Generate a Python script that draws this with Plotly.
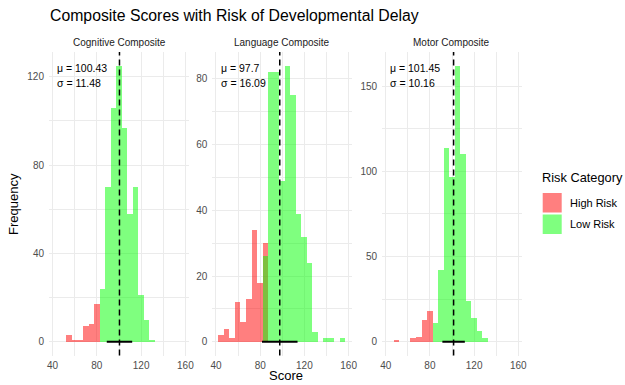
import plotly.graph_objects as go

# ---- data ----
bin_centers = [45, 50, 55, 60, 65, 70, 75, 80, 85, 90, 95, 100, 105, 110,
               115, 120, 125, 130, 135, 140, 145, 150, 155]
bin_width = 5

panels = ["Cognitive Composite", "Language Composite", "Motor Composite"]

cognitive_high = [0, 0, 3, 1, 1, 7, 8, 17, 0, 0, 0, 0, 0, 0, 0, 0, 0, 0, 0, 0, 0, 0, 0]
cognitive_low = [0, 0, 0, 0, 0, 0, 0, 0, 24, 70, 106, 125, 97, 58, 70, 21, 10, 1, 0, 0, 0, 0, 0]

language_high = [2, 4, 1, 12, 6, 13, 34, 18, 30, 0, 0, 0, 0, 0, 0, 0, 0, 0, 0, 0, 0, 0, 0]
language_low = [0, 0, 0, 0, 0, 0, 0, 0, 26, 82, 82, 49, 84, 75, 39, 32, 24, 3, 0, 1, 1, 0, 1]

motor_high = [0, 1, 0, 0, 2, 3, 13, 18, 0, 0, 0, 0, 0, 0, 0, 0, 0, 0, 0, 0, 0, 0, 0]
motor_low = [0, 0, 0, 0, 0, 0, 0, 0, 11, 42, 114, 97, 162, 110, 24, 14, 6, 2, 0, 0, 0, 0, 0]

means = [100.43, 97.7, 101.45]
sds = [11.48, 16.09, 10.16]

legend_title = "Risk Category"
risk_labels = ["High Risk", "Low Risk"]
risk_colors = ["rgba(255,0,0,0.5)", "rgba(0,255,0,0.5)"]

x_ticks = [40, 80, 120, 160]
x_minor = [60, 100, 140]
y_ticks = [[0, 40, 80, 120], [0, 20, 40, 60, 80], [0, 50, 100, 150]]
y_minor = [[20, 60, 100], [10, 30, 50, 70], [25, 75, 125]]

high_sets = [cognitive_high, language_high, motor_high]
low_sets = [cognitive_low, language_low, motor_low]

# ---- layout geometry (window pixels -> paper) ----
W, H = 625, 385
px = lambda v: v / W
py = lambda v: 1 - v / H
x_domains = [(49, 189), (212.4, 352.2), (382.1, 521.9)]
y_dom = [py(355.5), py(52)]

GRID = "#EBEBEB"
TICKC = "#4D4D4D"
FONT = "Liberation Sans, Arial, Helvetica, sans-serif"

fig = go.Figure()
layout = dict(
    width=W, height=H,
    margin=dict(l=0, r=0, t=0, b=0, autoexpand=False),
    paper_bgcolor="white", plot_bgcolor="white",
    barmode="overlay", bargap=0,
    font=dict(family=FONT, color="#000000"),
    showlegend=False,
)

xmin_all = bin_centers[0] - bin_width / 2
xmax_all = bin_centers[-1] + bin_width / 2
xpad = 0.05 * (xmax_all - xmin_all)

annotations = []
shapes = []

for i in range(3):
    sfx = "" if i == 0 else str(i + 1)
    xa, ya = "x" + sfx, "y" + sfx
    for counts, name, col in zip([high_sets[i], low_sets[i]], risk_labels, risk_colors):
        fig.add_trace(go.Bar(
            x=bin_centers,
            y=[c if c > 0 else None for c in counts],
            width=bin_width,
            marker=dict(color=col, line=dict(width=0)),
            name=name, legendgroup=name,
            xaxis=xa, yaxis=ya,
        ))
    # mean +/- sd segment
    fig.add_trace(go.Scatter(
        x=[means[i] - sds[i], means[i] + sds[i]], y=[0, 0],
        mode="lines", line=dict(color="#000000", width=2),
        hoverinfo="skip", xaxis=xa, yaxis=ya,
    ))
    # dashed mean line
    shapes.append(dict(type="line", xref=xa, yref=ya + " domain",
                       x0=means[i], x1=means[i], y0=0, y1=1,
                       line=dict(color="#000000", width=1.5, dash="6px,4px")))

    ymax = max(max(high_sets[i]), max(low_sets[i]))
    d0, d1 = x_domains[i]
    layout["xaxis" + sfx] = dict(
        domain=[px(d0), px(d1)], anchor=ya, automargin=False,
        range=[xmin_all - xpad, xmax_all + xpad],
        tickvals=x_ticks, ticks="", showline=False, zeroline=False,
        showgrid=True, gridcolor=GRID, gridwidth=1.1,
        minor=dict(tickvals=x_minor, showgrid=True, gridcolor=GRID, gridwidth=0.6),
        tickfont=dict(size=10, color=TICKC, family=FONT),
        ticklabelstandoff=2,
    )
    layout["yaxis" + sfx] = dict(
        domain=y_dom, anchor=xa, automargin=False,
        range=[-0.05 * ymax, 1.05 * ymax],
        tickvals=y_ticks[i], ticks="", showline=False, zeroline=False,
        showgrid=True, gridcolor=GRID, gridwidth=1.1,
        minor=dict(tickvals=y_minor[i], showgrid=True, gridcolor=GRID, gridwidth=0.6),
        tickfont=dict(size=10, color=TICKC, family=FONT),
        ticklabelstandoff=4,
    )
    # strip title
    annotations.append(dict(text=panels[i], xref="paper", yref="paper",
                            x=px((d0 + d1) / 2), y=py(42), xanchor="center",
                            yanchor="middle", showarrow=False,
                            font=dict(size=10, color="#1A1A1A", family=FONT)))
    # mu / sigma text
    annotations.append(dict(text=f"μ = {means[i]}", xref=xa, yref="paper",
                            x=42.5, y=py(68), xanchor="left", yanchor="middle",
                            showarrow=False, font=dict(size=10.5, color="#000000", family=FONT)))
    annotations.append(dict(text=f"σ = {sds[i]}", xref=xa, yref="paper",
                            x=42.5, y=py(83), xanchor="left", yanchor="middle",
                            showarrow=False, font=dict(size=10.5, color="#000000", family=FONT)))

# legend (drawn as keys + labels)
annotations.append(dict(text=legend_title, xref="paper", yref="paper",
                        x=px(539.5), y=py(177), xanchor="left", yanchor="middle",
                        showarrow=False, font=dict(size=12.8, color="#000000", family=FONT)))
key_tops = [193, 214.5]
for k, (name, col) in enumerate(zip(risk_labels, risk_colors)):
    t = key_tops[k]
    shapes.append(dict(type="rect", xref="paper", yref="paper",
                       x0=px(542.7), x1=px(561.7), y0=py(t + 19.5), y1=py(t),
                       fillcolor=col, line=dict(width=0)))
    annotations.append(dict(text=name, xref="paper", yref="paper",
                            x=px(567.5), y=py(t + 9.75), xanchor="left", yanchor="middle",
                            showarrow=False, font=dict(size=11, color="#000000", family=FONT)))

# global axis titles and main title
annotations.append(dict(text="Score", xref="paper", yref="paper",
                        x=px(285.5), y=0, xanchor="center", yanchor="bottom",
                        showarrow=False, font=dict(size=13, color="#000000", family=FONT)))
annotations.append(dict(text="Frequency", xref="paper", yref="paper",
                        x=px(14), y=py(204), xanchor="center", yanchor="middle",
                        textangle=-90, showarrow=False,
                        font=dict(size=13, color="#000000", family=FONT)))
annotations.append(dict(text="Composite Scores with Risk of Developmental Delay",
                        xref="paper", yref="paper", x=px(48), y=py(15),
                        xanchor="left", yanchor="middle", showarrow=False,
                        font=dict(size=15.8, color="#000000", family=FONT)))

layout["annotations"] = annotations
layout["shapes"] = shapes
fig.update_layout(**layout)

fig.write_html(
    "out.html",
    config={"displayModeBar": False},
    post_script="document.body.style.margin='0';document.body.style.overflow='hidden';",
)
